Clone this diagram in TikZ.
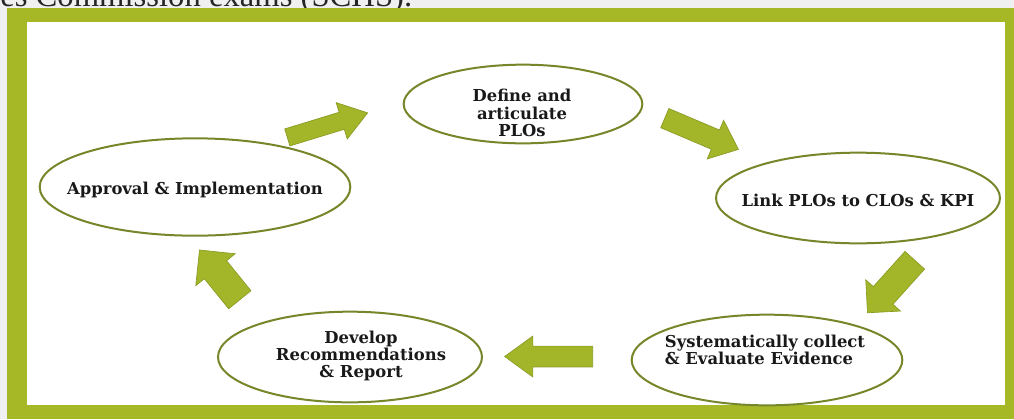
\documentclass[tikz,border=0pt]{standalone}
\usepackage{fontspec}
\setmainfont{DejaVu Serif}
\newfontfamily\captionfont{Liberation Serif}
\usetikzlibrary{shapes.geometric,shapes.arrows}
\definecolor{framegreen}{HTML}{A6B826}
\definecolor{arrowgreen}{HTML}{A3B62A}
\definecolor{arrowedge}{HTML}{8A9B22}
\definecolor{ovaledge}{HTML}{76872A}
\definecolor{pagegray}{HTML}{F0F0F0}
\begin{document}
\begin{tikzpicture}[x=0.75pt,y=0.75pt,yscale=-1,xscale=1,
    phase/.style={ellipse, draw=ovaledge, line width=1.5pt, fill=white, inner sep=0pt},
    phasetext/.style={font=\bfseries\fontsize{12.3}{13}\selectfont, align=center, text=black!90, inner sep=0pt},
    cyclearrow/.style={single arrow, draw=arrowedge, fill=arrowgreen, line width=0.5pt, anchor=tail, inner xsep=0pt}]
        \useasboundingbox (0,0) rectangle (1014,419);
        % page and frame
        \fill [pagegray] (0,0) rectangle (1014,419);
        \node [anchor=base west, inner sep=0pt, text=black!85, font=\captionfont\fontsize{24.5}{30}\selectfont] (caption) at (0,6.5) {es Commission exams (SCHS).};
        \fill [framegreen] (7,8) rectangle (1014,419);
        \fill [white] (27,22) rectangle (1005,405);
        % the five steps
        \node [phase, minimum width=179pt, minimum height=59pt] (define) at (523,104) {};
        \node [phase, minimum width=213pt, minimum height=68pt] (link) at (858,198) {};
        \node [phase, minimum width=203pt, minimum height=68pt] (collect) at (767,360) {};
        \node [phase, minimum width=198pt, minimum height=68pt] (develop) at (350,357) {};
        \node [phase, minimum width=233pt, minimum height=73pt] (approve) at (195,187) {};
        \node [phasetext] (definetext) at (522,113) {Define and\\articulate\\PLOs};
        \node [phasetext] (linktext) at (858,200) {Link PLOs to CLOs \& KPI};
        \node [phasetext, align=left] (collecttext) at (765,350) {Systematically collect\\\& Evaluate Evidence};
        \node [phasetext] (developtext) at (361,356) {Develop\\Recommendations\\\& Report};
        \node [phasetext] (approvetext) at (195,190) {Approval \& Implementation};
        % arrows between steps
        \node [cyclearrow, rotate=17, minimum height=63pt, minimum width=28.5pt, inner ysep=6pt, single arrow tip angle=70] (arrowa) at (287,137.5) {};
        \node [cyclearrow, rotate=-23, minimum height=60pt, minimum width=31.5pt, inner ysep=6.75pt, single arrow tip angle=80] (arrowb) at (664.5,118) {};
        \node [cyclearrow, rotate=-132, minimum height=53pt, minimum width=35pt, inner ysep=9pt, single arrow tip angle=90] (arrowc) at (915,260) {};
        \node [cyclearrow, rotate=180, minimum height=66pt, minimum width=30.75pt, inner ysep=7.1pt, single arrow tip angle=72] (arrowd) at (593,356.5) {};
        \node [cyclearrow, rotate=129, minimum height=48pt, minimum width=38pt, inner ysep=9pt, single arrow tip angle=90] (arrowe) at (240,300) {};
    \end{tikzpicture}
\end{document}
